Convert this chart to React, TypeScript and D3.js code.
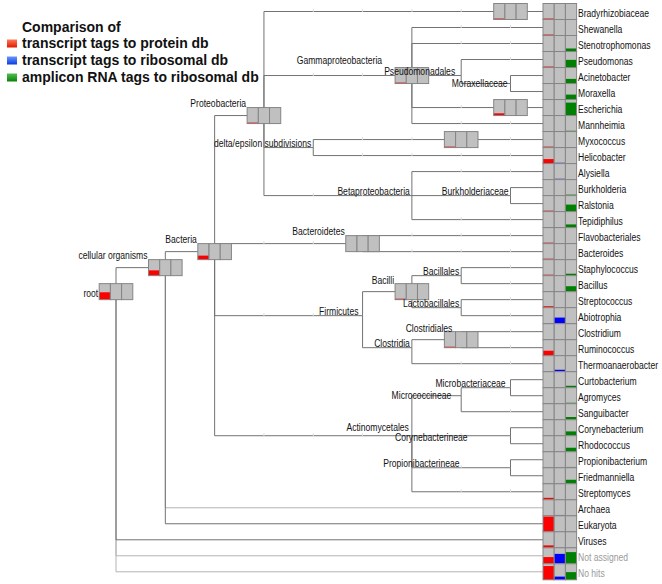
import React from "react";
import * as d3 from "d3";

// ---------- data ----------
const leafNames = [
  "Bradyrhizobiaceae", "Shewanella", "Stenotrophomonas", "Pseudomonas", "Acinetobacter",
  "Moraxella", "Escherichia", "Mannheimia", "Myxococcus", "Helicobacter", "Alysiella",
  "Burkholderia", "Ralstonia", "Tepidiphilus", "Flavobacteriales", "Bacteroides",
  "Staphylococcus", "Bacillus", "Streptococcus", "Abiotrophia", "Clostridium",
  "Ruminococcus", "Thermoanaerobacter", "Curtobacterium", "Agromyces", "Sanguibacter",
  "Corynebacterium", "Rhodococcus", "Propionibacterium", "Friedmanniella", "Streptomyces",
  "Archaea", "Eukaryota", "Viruses", "Not assigned", "No hits",
];
const leafParents = [
  "Rhizobiales", "Gammaproteobacteria", "Gammaproteobacteria", "Pseudomonadales",
  "Moraxellaceae", "Moraxellaceae", "Enterobacteriaceae", "Gammaproteobacteria",
  "Myxococcales", "delta/epsilon subdivisions", "Betaproteobacteria", "Burkholderiaceae",
  "Burkholderiaceae", "Betaproteobacteria", "Bacteroidetes", "Bacteroidetes", "Bacillales",
  "Bacillales", "Lactobacillales", "Lactobacillales", "Clostridiales", "Clostridiales",
  "Clostridia", "Microbacteriaceae", "Microbacteriaceae", "Micrococcineae",
  "Corynebacterineae", "Corynebacterineae", "Propionibacterineae", "Propionibacterineae",
  "Actinomycetales", "cellular organisms", "cellular organisms", "root", "root", "root",
];
// bar heights, % of a cell
const proteinDb = [6, 6, 0, 6, 0, 0, 0, 0, 6, 28, 0, 0, 6, 0, 6, 6, 6, 0, 9, 0, 4, 31, 0, 0, 0, 0, 0, 0, 0, 0, 12, 0, 95, 15, 42, 86];
const ribosomalDb = [0, 0, 0, 0, 0, 0, 0, 0, 0, 5, 5, 0, 0, 0, 0, 0, 0, 0, 0, 38, 0, 0, 12, 0, 0, 0, 0, 0, 0, 0, 0, 5, 0, 0, 62, 20];
const ampliconDb = [0, 0, 19, 48, 29, 31, 81, 5, 0, 0, 0, 6, 44, 20, 0, 0, 12, 34, 0, 0, 0, 0, 0, 12, 6, 17, 27, 25, 5, 25, 0, 0, 0, 0, 73, 48];
const unassignedLeaves = ["Archaea", "Not assigned", "No hits"];
const greyLabels = ["Not assigned", "No hits"];

const nodeNames = [
  "root", "cellular organisms", "Bacteria", "Proteobacteria", "Rhizobiales",
  "Gammaproteobacteria", "Pseudomonadales", "Moraxellaceae", "Enterobacteriaceae",
  "delta/epsilon subdivisions", "Myxococcales", "Betaproteobacteria", "Burkholderiaceae",
  "Bacteroidetes", "Firmicutes", "Bacilli", "Bacillales", "Lactobacillales", "Clostridia",
  "Clostridiales", "Actinomycetales", "Micrococcineae", "Microbacteriaceae",
  "Corynebacterineae", "Propionibacterineae",
];
const nodeParents = [
  null, "root", "cellular organisms", "Bacteria", "Proteobacteria", "Proteobacteria",
  "Gammaproteobacteria", "Pseudomonadales", "Gammaproteobacteria", "Proteobacteria",
  "delta/epsilon subdivisions", "Proteobacteria", "Betaproteobacteria", "Bacteria",
  "Bacteria", "Firmicutes", "Bacilli", "Bacilli", "Firmicutes", "Clostridia", "Bacteria",
  "Actinomycetales", "Micrococcineae", "Actinomycetales", "Actinomycetales",
];
const nodeRanks = [0, 1, 2, 3, 8, 6, 7, 8, 8, 4, 7, 6, 8, 5, 5, 6, 7, 7, 6, 7, 6, 7, 8, 8, 8];
const nodeHasBox = [1, 1, 1, 1, 1, 1, 0, 0, 1, 0, 1, 0, 0, 1, 0, 1, 0, 0, 0, 1, 0, 0, 0, 0, 0];
const nodeLabelShown = [1, 1, 1, 1, 0, 1, 1, 1, 0, 1, 0, 1, 1, 1, 1, 1, 1, 1, 1, 1, 1, 1, 1, 1, 1];
const nodeProteinDb = [46, 33, 25, 6, 6, 6, 0, 0, 14, 0, 6, 0, 0, 0, 0, 6, 0, 0, 0, 6, 0, 0, 0, 0, 0];
const nodeRibosomalDb = nodeNames.map(() => 0);
const nodeAmpliconDb = nodeNames.map(() => 0);

const legendTitle = "Comparison of";
const legendLabels = ["transcript tags to protein db", "transcript tags to ribosomal db", "amplicon RNA tags to ribosomal db"];
const seriesColors = ["#ff0000", "#0000ff", "#008000"];
const legendGrad = [["#ff7a5c", "#e01800"], ["#6c95ff", "#0a3ee0"], ["#52c052", "#0a800a"]];

// label placement nudges (layout only)
const labelNudge: Record<string, [number, number]> = {
  Gammaproteobacteria: [-12, -2.5],
  Pseudomonadales: [-4, 0.5],
  Moraxellaceae: [-1, 4],
  Clostridiales: [9, 1],
  Actinomycetales: [-1, -3.5],
  Micrococcineae: [-8, 4.5],
  Microbacteriaceae: [-3, 0],
  Corynebacterineae: [-41, 6],
  Propionibacterineae: [-49, 0.5],
  Bacilli: [0, 1],
  Firmicutes: [-2, 0],
};

// ---------- layout ----------
const W = 662, H = 584;
const CELL_W = 11.2, CELL_H = 16;
const COL_X = 543;
const LABEL_X = 578;
const xLevel = d3.scaleLinear().domain([0, 8]).range([116, 510.5]);
const yRow = d3.scalePoint<string>().domain(leafNames).range([11.5, 571.8]);
const hVal = d3.scaleLinear().domain([0, 100]).range([0, CELL_H]);

const SMALL_FONT = "'Liberation Sans', Arial, Helvetica, sans-serif";
const SMALL_SIZE = 11;
const SQUEEZE = 0.78;
const BOLD_FONT = "'Liberation Sans', Arial, Helvetica, sans-serif";

type Item = { name: string; parent: string | null; level: number; x: number; y: number; leaf: boolean; box: boolean; label: boolean; vals: number[] };

function buildTree() {
  const items: Record<string, Item> = {};
  const span: Record<string, [number, number]> = {};
  nodeNames.forEach((n, i) => {
    items[n] = { name: n, parent: nodeParents[i], level: nodeRanks[i], x: xLevel(nodeRanks[i]), y: 0, leaf: false, box: !!nodeHasBox[i], label: !!nodeLabelShown[i], vals: [nodeProteinDb[i], nodeRibosomalDb[i], nodeAmpliconDb[i]] };
    span[n] = [Infinity, -Infinity];
  });
  leafNames.forEach((n, i) => {
    const y = yRow(n)!;
    items[n] = { name: n, parent: leafParents[i], level: 9, x: COL_X, y, leaf: true, box: true, label: true, vals: [proteinDb[i], ribosomalDb[i], ampliconDb[i]] };
    let p: string | null = leafParents[i];
    while (p) {
      span[p][0] = Math.min(span[p][0], y);
      span[p][1] = Math.max(span[p][1], y);
      p = items[p].parent;
    }
  });
  nodeNames.forEach((n) => { items[n].y = (span[n][0] + span[n][1]) / 2; });
  return items;
}

function Cells({ x0, y, vals, k }: { x0: number; y: number; vals: number[]; k: string }) {
  return (
    <g>
      {vals.map((v, i) => {
        const x = x0 + i * CELL_W;
        const top = y - CELL_H / 2;
        const h = hVal(v);
        return (
          <g key={k + i}>
            <rect x={x} y={top} width={CELL_W} height={CELL_H} fill="#c0c0c0" />
            {h > 0 && <rect x={x} y={top + CELL_H - h} width={CELL_W} height={h} fill={seriesColors[i]} />}
            <rect x={x} y={top} width={CELL_W} height={CELL_H} fill="none" stroke="#858585" strokeWidth={1} />
          </g>
        );
      })}
    </g>
  );
}

function SText({ x, y, anchor, fill, children }: { x: number; y: number; anchor?: string; fill?: string; children: React.ReactNode }) {
  return (
    <text transform={`translate(${x},${y}) scale(${SQUEEZE},1)`} textAnchor={anchor || "start"} fill={fill || "#111"}
      fontFamily={SMALL_FONT} fontSize={SMALL_SIZE}>
      {children}
    </text>
  );
}

export default function App() {
  const items = buildTree();
  const all = Object.values(items).filter((d) => d.parent);
  const isLight = (d: Item) => unassignedLeaves.includes(d.name);
  const ordered = [...all.filter(isLight), ...all.filter((d) => !isLight(d))];

  const ticks: { x: number; y: number; k: string }[] = [];
  all.forEach((d) => {
    const p = items[d.parent!];
    if (p.level < 2) return;
    for (let l = p.level + 1; l <= Math.min(d.level - 1, 8); l++) {
      ticks.push({ x: xLevel(l), y: d.y, k: d.name + l });
    }
  });

  const boxNodes = nodeNames.map((n) => items[n]).filter((d) => d.box);
  const labelNodes = nodeNames.map((n) => items[n]).filter((d) => d.label);

  return (
    <svg width={W} height={H} style={{ position: "absolute", left: 0, top: 0, background: "#fff" }}>
      <defs>
        {legendGrad.map((g, i) => (
          <linearGradient key={i} id={"lg" + i} x1="0" y1="0" x2="0" y2="1">
            <stop offset="0" stopColor={g[0]} />
            <stop offset="1" stopColor={g[1]} />
          </linearGradient>
        ))}
      </defs>
      {/* edges */}
      <g fill="none" strokeWidth={1}>
        {ordered.map((d) => {
          const p = items[d.parent!];
          return (
            <path key={"e" + d.name} d={`M${p.x},${p.y}V${d.y}H${d.x}`} stroke={isLight(d) ? "#b4b4b4" : "#727272"} />
          );
        })}
      </g>
      <g>
        {ticks.map((t) => (
          <rect key={"t" + t.k} x={t.x - 0.5} y={t.y - 2.5} width={1} height={3} fill="#dcdcdc" />
        ))}
      </g>
      {/* node boxes */}
      {boxNodes.map((d) => (
        <Cells key={"b" + d.name} k={d.name} x0={d.x - 1.5 * CELL_W} y={d.y} vals={d.vals} />
      ))}
      {/* leaf cells */}
      {leafNames.map((n) => (
        <Cells key={"l" + n} k={n} x0={COL_X} y={items[n].y} vals={items[n].vals} />
      ))}
      {/* leaf labels */}
      {leafNames.map((n) => (
        <SText key={"lt" + n} x={LABEL_X} y={items[n].y + 5} fill={greyLabels.includes(n) ? "#9a9a9a" : "#111"}>{n}</SText>
      ))}
      {/* node labels */}
      {labelNodes.map((d) => {
        let x: number, y: number;
        if (d.name === "root") {
          x = d.x - 1.5 * CELL_W - 1;
          y = d.y + 5;
        } else if (d.box) {
          x = d.x - 1.5 * CELL_W - 1;
          y = d.y - CELL_H / 2 - 1;
        } else {
          x = d.x - 2;
          y = d.y - 1;
        }
        const nd = labelNudge[d.name] || [0, 0];
        return <SText key={"nt" + d.name} x={x + nd[0]} y={y + nd[1]} anchor="end">{d.name}</SText>;
      })}
      {/* legend */}
      <g fontFamily={BOLD_FONT} fontSize={14} fontWeight="bold" fill="#111">
        <text x={22} y={31.5}>{legendTitle}</text>
        {legendLabels.map((l, i) => (
          <g key={"lg" + i}>
            <rect x={7} y={40 + i * 17 - 0.5} width={10} height={8} fill={`url(#lg${i})`} />
            <text x={22} y={48 + i * 17}>{l}</text>
          </g>
        ))}
      </g>
    </svg>
  );
}
